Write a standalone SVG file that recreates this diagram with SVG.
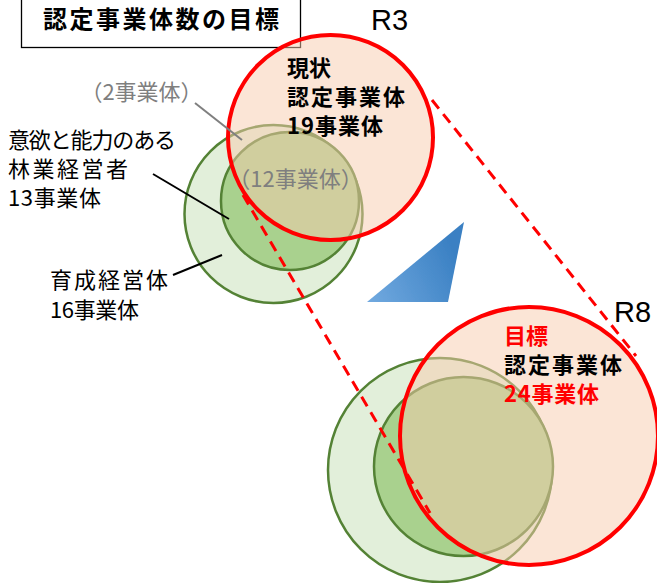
<svg xmlns="http://www.w3.org/2000/svg" width="657" height="583" viewBox="0 0 657 583">
<defs>
<style>
.t{font-family:"Noto Sans CJK JP","Liberation Sans",sans-serif;}
.b{font-weight:bold;}
.lbl{font-size:22px;fill:#000;}
.big{font-size:22px;}
.gray{font-size:22px;fill:#7f7f7f;}
.r{font-family:"Liberation Sans","Noto Sans",sans-serif;font-size:29px;fill:#000;}
.go{fill:#E2EFDA;stroke:#548235;stroke-width:2.5;}
.gi{fill:#A9D18E;stroke:#548235;stroke-width:2.5;}
.rc{fill:rgba(248,203,173,0.5);stroke:#FF0000;stroke-width:4;}
.dash{stroke:#FF0000;stroke-width:3;stroke-dasharray:11 7;fill:none;}
.lead{stroke:#000;stroke-width:2;}
</style>
<linearGradient id="blue" x1="0" y1="1" x2="1" y2="0.6">
<stop offset="0" stop-color="#72AAE0"/>
<stop offset="1" stop-color="#3A80C3"/>
</linearGradient>
<filter id="soft" x="-5%" y="-5%" width="110%" height="110%"><feGaussianBlur stdDeviation="0.7"/></filter>
</defs>
<rect width="657" height="583" fill="#fff"/>

<g id="title">
<rect x="21.5" y="-5" width="279" height="52.5" fill="#fff" stroke="#000" stroke-width="1.3"/>
<text class="t b" x="43" y="28" font-size="24" textLength="236" lengthAdjust="spacing">認定事業体数の目標</text>
</g>

<g id="r3-set">
<circle id="r3-ikusei" class="go" cx="273.5" cy="214" r="89"/>
<circle id="r3-ringyo" class="gi" cx="290" cy="201" r="69"/>
<circle id="r3-nintei" class="rc" cx="330.5" cy="137.5" r="102.5"/>
<text class="t b big" x="287" y="76">現状</text>
<text class="t b big" x="287" y="105" textLength="118" lengthAdjust="spacing">認定事業体</text>
<text class="t b big" x="287" y="134" textLength="96" lengthAdjust="spacing">19事業体</text>
<text class="t gray" x="295.5" y="187" text-anchor="middle">（12事業体）</text>
</g>

<g id="r8-set">
<circle id="r8-ikusei" class="go" cx="440" cy="470" r="112"/>
<circle id="r8-ringyo" class="gi" cx="463.5" cy="466.5" r="89.5"/>
<circle id="r8-nintei" class="rc" cx="529" cy="436" r="129"/>
<text class="t b big" x="504" y="344" fill="#FF0000">目標</text>
<text class="t b big" x="504" y="373" textLength="118" lengthAdjust="spacing">認定事業体</text>
<text class="t b big" x="504" y="402" fill="#FF0000" textLength="95" lengthAdjust="spacing">24事業体</text>
</g>

<g id="labels">
<text class="r" x="371" y="30">R3</text>
<text class="r" x="614" y="322">R8</text>
<text class="t gray" x="141.5" y="100" text-anchor="middle">（2事業体）</text>
<text class="t lbl" x="8" y="148" textLength="168" lengthAdjust="spacing">意欲と能力のある</text>
<text class="t lbl" x="8" y="177" textLength="120" lengthAdjust="spacing">林業経営者</text>
<text class="t lbl" x="8" y="206" textLength="93" lengthAdjust="spacing">13事業体</text>
<text class="t lbl" x="50" y="288" textLength="118" lengthAdjust="spacing">育成経営体</text>
<text class="t lbl" x="50" y="318" textLength="89" lengthAdjust="spacing">16事業体</text>
</g>

<g id="arrow">
<polygon points="367,302 464,222 448,302" fill="url(#blue)" filter="url(#soft)"/>
</g>

<g id="connectors">
<line class="dash" x1="432" y1="100" x2="636" y2="356"/>
<line class="dash" x1="243" y1="195" x2="430" y2="513"/>
<line x1="195" y1="103" x2="242" y2="140" stroke="#7f7f7f" stroke-width="2"/>
<line class="lead" x1="153" y1="174" x2="229" y2="219"/>
<line class="lead" x1="173" y1="275" x2="222" y2="255"/>
</g>
</svg>
